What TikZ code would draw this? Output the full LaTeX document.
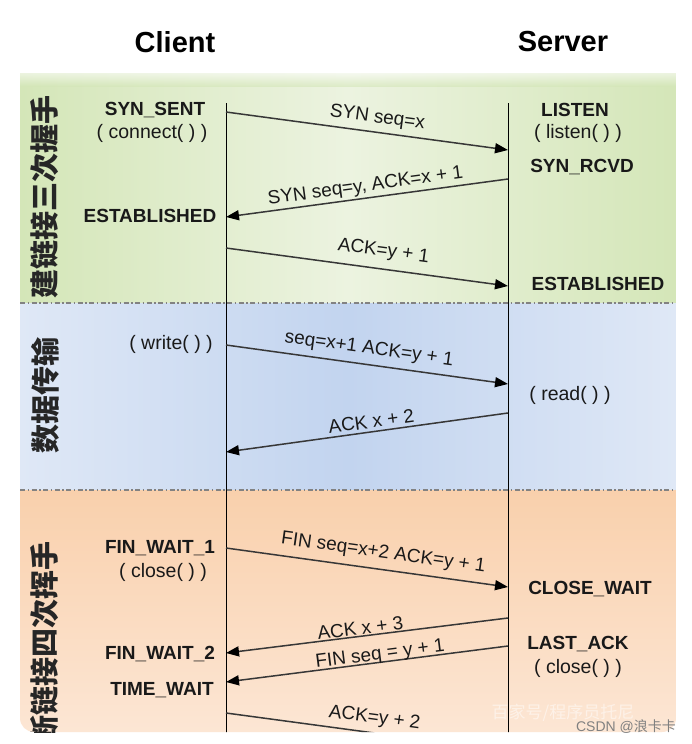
\documentclass[tikz,border=0pt]{standalone}
\usepackage{fontspec}
\setmainfont{Liberation Sans}
\newfontfamily\cjk{Noto Sans CJK SC}
\usetikzlibrary{arrows.meta}
\definecolor{gEdge}{RGB}{212,230,184}
\definecolor{gMid}{RGB}{236,243,224}
\definecolor{bEdge}{RGB}{223,232,246}
\definecolor{bMid}{RGB}{194,212,239}
\definecolor{oTop}{RGB}{249,208,172}
\definecolor{oBot}{RGB}{252,230,212}
\definecolor{arrowgray}{RGB}{55,55,55}
\definecolor{dashgray}{RGB}{130,130,130}
\begin{document}
\begin{tikzpicture}[x=1pt,y=-1pt,
  title/.style={font=\fontsize{29}{33}\selectfont\bfseries, inner sep=0pt},
  st/.style={font=\fontsize{19}{22}\selectfont\bfseries, inner sep=0pt, text=black!90},
  call/.style={font=\fontsize{19.5}{22}\selectfont, inner sep=0pt, text=black!90},
  lab/.style={font=\fontsize{19}{22}\selectfont, inner sep=0pt, sloped, text=black!90},
  vlab/.style={font=\cjk\bfseries\fontsize{29}{32}\selectfont, inner sep=0pt, rotate=90, text=black!85},
  msg/.style={draw=arrowgray, line width=1.5pt, -{Triangle[length=13pt,width=10pt,color=black]}},
  life/.style={draw=black, line width=0.9pt},
  sep/.style={draw=dashgray, line width=1.6pt, dash pattern=on 5pt off 2.5pt on 1.5pt off 2.5pt}
]
\useasboundingbox (0,0) rectangle (691,744);
\fill[white] (0,0) rectangle (691,744);

\node[title] (client) at (175,42) {Client};
\node[title] (server) at (563,42) {Server};

\begin{scope}
\clip[rounded corners=14pt] (20,20) rectangle (676,732);
% backgrounds
\shade[left color=gEdge, right color=gEdge, middle color=gMid] (20,73) rectangle (676,303);
\shade[top color=white, bottom color=gEdge, opacity=0.6] (20,72) rectangle (676,86);
\shade[left color=bEdge, right color=bEdge, middle color=bMid] (20,303) rectangle (676,490);
\shade[top color=oTop, bottom color=oBot] (20,490) rectangle (676,732);

\draw[sep] (20,303) -- (676,303);
\draw[sep] (20,490) -- (676,490);

% lifelines
\coordinate (ct) at (226,103);
\coordinate (cb) at (226,744);
\coordinate (stp) at (508,103);
\coordinate (sb) at (508,744);
\draw[life] (ct) -- (cb);
\draw[life] (stp) -- (sb);

% side labels
\node[vlab] (v1) at (45,197) {建链接三次握手};
\node[vlab] (v2) at (45,395) {数据传输};
\node[vlab] (v3) at (45,643) {断链接四次挥手};

% messages
\coordinate (a1s) at (226,112); \coordinate (a1e) at (508,150);
\coordinate (a2s) at (508,179); \coordinate (a2e) at (226,217);
\coordinate (a3s) at (226,248); \coordinate (a3e) at (508,286);
\coordinate (a4s) at (226,345); \coordinate (a4e) at (508,384);
\coordinate (a5s) at (508,413); \coordinate (a5e) at (226,452);
\coordinate (a6s) at (226,548); \coordinate (a6e) at (508,587);
\coordinate (a7s) at (508,618); \coordinate (a7e) at (226,653);
\coordinate (a8s) at (508,646); \coordinate (a8e) at (226,682);
\coordinate (a9s) at (226,713); \coordinate (a9e) at (508,751);

\draw[msg] (a1s) -- node[lab, pos=0.53, above=5pt] (l1) {SYN seq=x} (a1e);
\draw[msg] (a2s) -- node[lab, pos=0.50, above=2pt] (l2) {SYN seq=y, ACK=x + 1} (a2e);
\draw[msg] (a3s) -- node[lab, pos=0.55, above=8pt] (l3) {ACK=y + 1} (a3e);
\draw[msg] (a4s) -- node[lab, pos=0.50, above=6pt] (l4) {seq=x+1 ACK=y + 1} (a4e);
\draw[msg] (a5s) -- node[lab, pos=0.48, above=3pt] (l5) {ACK x + 2} (a5e);
\draw[msg] (a6s) -- node[lab, pos=0.55, above=7pt] (l6) {FIN seq=x+2 ACK=y + 1} (a6e);
\draw[msg] (a7s) -- node[lab, pos=0.52, above=1pt] (l7) {ACK x + 3} (a7e);
\draw[msg] (a8s) -- node[lab, pos=0.45, above=-2pt] (l8) {FIN seq = y + 1} (a8e);
\draw[msg] (a9s) -- node[lab, pos=0.52, above=5pt] (l9) {ACK=y + 2} (a9e);

% watermark
\node[font=\cjk\fontsize{17}{20}\selectfont, text=white, opacity=0.5, inner sep=0pt] (wm) at (563,713) {百家号/程序员托尼};
\end{scope}

% client states
\node[st] (synsent) at (155,110) {SYN\_SENT};
\node[call] (connect) at (152,133) {( connect( ) )};
\node[st] (estc) at (150,216) {ESTABLISHED};
\node[call] (write) at (171,344) {( write( ) )};
\node[st] (fw1) at (160,548) {FIN\_WAIT\_1};
\node[call] (closec) at (163,572) {( close( ) )};
\node[st] (fw2) at (160,654) {FIN\_WAIT\_2};
\node[st] (tw) at (162,690) {TIME\_WAIT};

% server states
\node[st] (listen) at (575,110) {LISTEN};
\node[call] (listenc) at (578,133) {( listen( ) )};
\node[st] (synrcvd) at (582,167) {SYN\_RCVD};
\node[st] (ests) at (598,284) {ESTABLISHED};
\node[call] (read) at (570,395) {( read( ) )};
\node[st] (cw) at (590,589) {CLOSE\_WAIT};
\node[st] (la) at (578,644) {LAST\_ACK};
\node[call] (closes) at (578,668) {( close( ) )};

\node[font=\fontsize{14}{16}\selectfont, text=black!50, inner sep=0pt] (csdn) at (626,727) {CSDN @{\cjk 浪卡卡}};
\end{tikzpicture}
\end{document}
